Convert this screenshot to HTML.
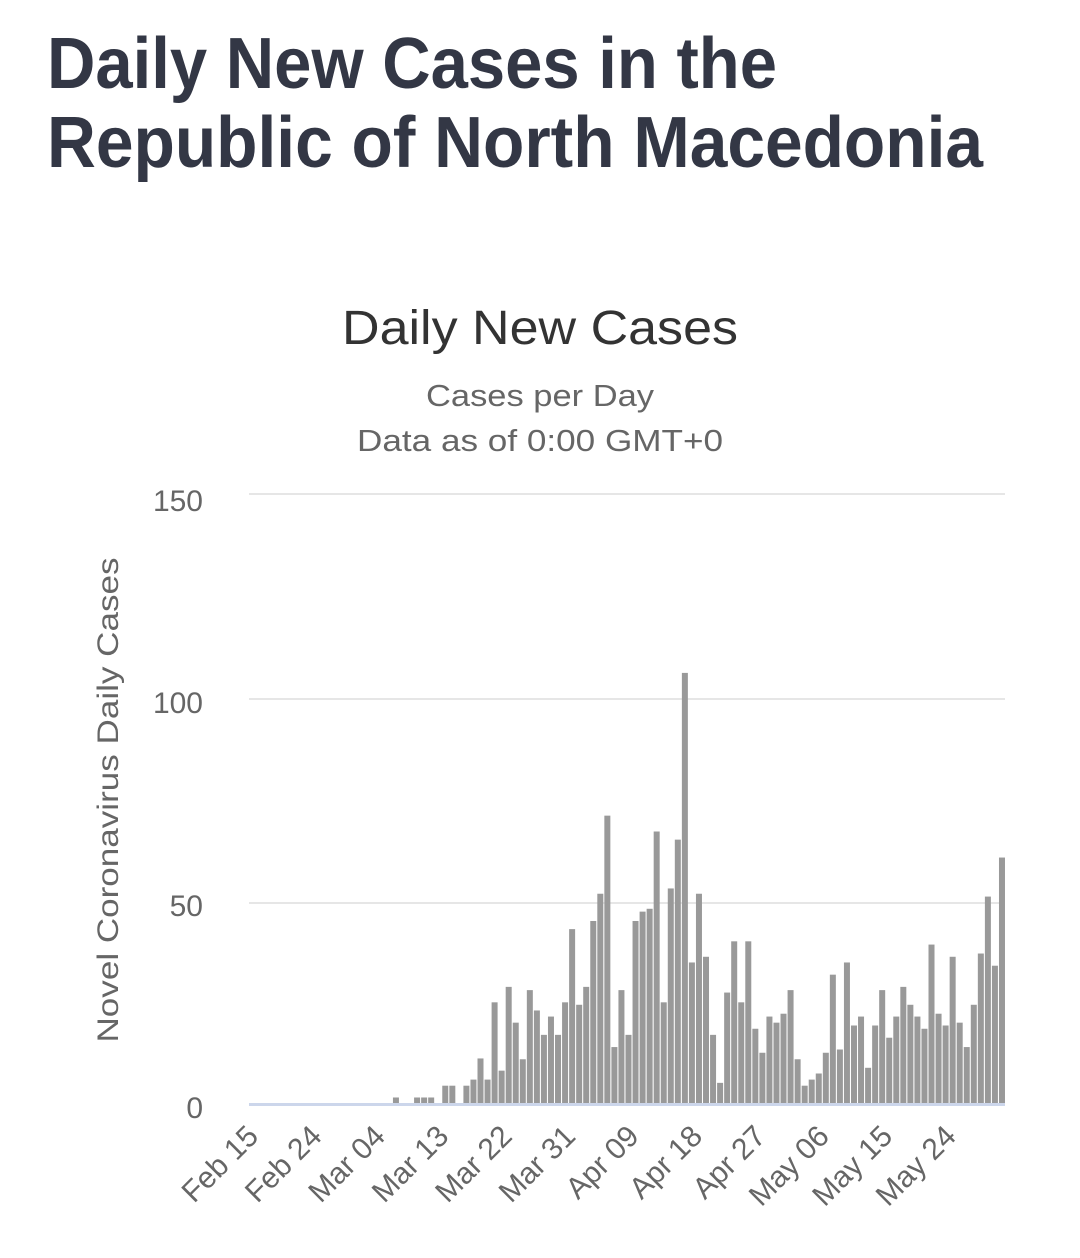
<!DOCTYPE html>
<html><head><meta charset="utf-8"><style>
html,body{margin:0;padding:0;background:#fff;width:1080px;height:1258px;overflow:hidden}
svg{display:block}
</style></head><body>
<svg id="s" width="1080" height="1258" xmlns="http://www.w3.org/2000/svg" font-family="Liberation Sans, sans-serif">
<text x="47" y="88" font-size="72" font-weight="bold" fill="#333745" textLength="730" lengthAdjust="spacingAndGlyphs">Daily New Cases in the</text>
<text x="47" y="167" font-size="72" font-weight="bold" fill="#333745" textLength="936" lengthAdjust="spacingAndGlyphs">Republic of North Macedonia</text>
<text x="540" y="344" font-size="48" fill="#333" text-anchor="middle" textLength="396" lengthAdjust="spacingAndGlyphs">Daily New Cases</text>
<text x="540" y="406" font-size="31" fill="#666" text-anchor="middle" textLength="228" lengthAdjust="spacingAndGlyphs">Cases per Day</text>
<text x="540" y="451" font-size="31" fill="#666" text-anchor="middle" textLength="366" lengthAdjust="spacingAndGlyphs">Data as of 0:00 GMT+0</text>
<g stroke="#e6e6e6" stroke-width="2">
<line x1="249" y1="494" x2="1005" y2="494"/>
<line x1="249" y1="699" x2="1005" y2="699"/>
<line x1="249" y1="903" x2="1005" y2="903"/>
</g>
<g font-size="30" fill="#666" text-anchor="end">
<text x="203" y="511">150</text>
<text x="203" y="713">100</text>
<text x="203" y="916">50</text>
<text x="203" y="1118">0</text>
</g>
<text transform="translate(118,800) rotate(-90)" font-size="30" fill="#666" text-anchor="middle" textLength="485" lengthAdjust="spacingAndGlyphs">Novel Coronavirus Daily Cases</text>
<g id="bars" fill="#999"></g>
<line x1="249" y1="1104.5" x2="1005" y2="1104.5" stroke="#ccd6eb" stroke-width="3"/>
<g id="xl" font-size="30" fill="#666" text-anchor="end"></g>
</svg>
<script>
var v=[];for(var i=0;i<107;i++)v.push(0);
var d={20:1.6,23:1.6,24:1.6,25:1.6,27:4.5,28:4.5,30:4.5,31:6,32:11.2,33:6,34:25,35:8.2,36:28.8,37:20,38:11,39:28,40:23,41:17,42:21.5,43:17,44:25,45:43,46:24.4,47:28.8,48:45,49:51.7,50:70.9,51:14,52:28,53:17,54:45,55:47.3,56:48,57:67,58:25,59:53,60:65,61:106,62:34.8,63:51.7,64:36.2,65:17,66:5.2,67:27.4,68:40,69:25,70:40,71:18.5,72:12.6,73:21.5,74:20,75:22.2,76:28,77:11,78:4.5,79:6,80:7.5,81:12.6,82:31.8,83:13.4,84:34.8,85:19.3,86:21.5,87:8.9,88:19.3,89:28,90:16.3,91:21.5,92:28.8,93:24.4,94:21.5,95:18.5,96:39.2,97:22.2,98:19.3,99:36.2,100:20,101:14,102:24.4,103:37,104:51,105:34,106:60.6};
for(var k in d)v[k]=d[k];
var g=document.getElementById("bars"),s="";
for(var i=0;i<107;i++){if(!v[i])continue;var h=v[i]*4.067,x=252+7.047*i;s+='<rect x="'+x.toFixed(2)+'" y="'+(1104-h).toFixed(2)+'" width="6" height="'+h.toFixed(2)+'"/>';}
g.innerHTML=s;
var L=["Feb 15","Feb 24","Mar 04","Mar 13","Mar 22","Mar 31","Apr 09","Apr 18","Apr 27","May 06","May 15","May 24"],t="";
for(var j=0;j<L.length;j++){var x=260+7.047*9*j;t+='<text transform="translate('+x.toFixed(1)+',1138) rotate(-45)">'+L[j]+'</text>';}
document.getElementById("xl").innerHTML=t;
</script>
</body></html>
